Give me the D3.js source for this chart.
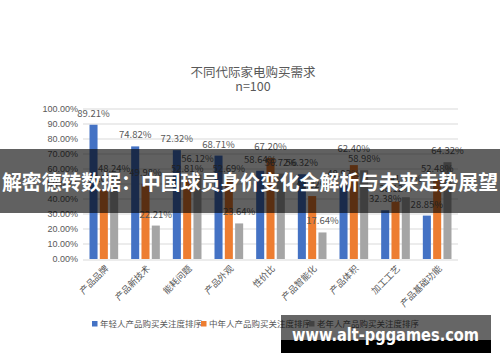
<!DOCTYPE html>
<html>
<head>
<meta charset="utf-8">
<script src="https://cdn.jsdelivr.net/npm/d3@7"></script>
<style>
  body { margin: 0; background: #fff; }
  svg { display: block; font-family: "Noto Sans CJK SC", "Noto Sans", sans-serif; }
  .axis text { fill: #595959; font-size: 9px; }
  .axis path, .axis line { stroke: none; }
  .grid line { stroke: #d9d9d9; stroke-width: 1; }
  .val { fill: #595959; font-size: 9.5px; text-anchor: middle; }
</style>
</head>
<body>
<div class="chart"></div>
<script>
const categories = [ "产品品牌", "产品新技术", "能耗问题", "产品外观", "性价比", "产品智能化", "产品体积", "加工工艺", "产品基础功能" ];
const seriesNames = [ "年轻人产品购买关注度排序", "中年人产品购买关注度排序", "老年人产品购买关注度排序" ];
const young  = [ 89.21, 74.82, 72.32, 68.71, 58.64, 56.32, 48.92, 32.38, 28.85 ];
const middle = [ 46.05, 49.98, 52.81, 52.69, 67.20, 41.82, 62.40, 38.12, 52.48 ];
const old    = [ 48.24, 22.21, 56.12, 23.64, 56.72, 17.64, 58.98, 41.05, 64.32 ];
const yTicks = [ 0, 10, 20, 30, 40, 50, 60, 70, 80, 90, 100 ];
const colors = [ "#4472c4", "#ed7d31", "#a5a5a5" ];

const width = 500;
const height = 362;
const margin = { top: 108.5, right: 42, bottom: 103, left: 83 };

const svg = d3.select( ".chart" )
  .append( "svg" )
    .attr( "width", width )
    .attr( "height", height );

// title
svg.append( "text" )
  .attr( "x", 253 ).attr( "y", 77 )
  .attr( "text-anchor", "middle" )
  .attr( "fill", "#595959" )
  .style( "font-size", "12.5px" )
  .text( "不同代际家电购买需求" );
svg.append( "text" )
  .attr( "x", 253 ).attr( "y", 91 )
  .attr( "text-anchor", "middle" )
  .attr( "fill", "#595959" )
  .style( "font-size", "12.5px" )
  .text( "n=100" );

const g = svg.append( "g" )
  .attr( "transform", `translate(${ margin.left },${ margin.top })` );

const innerW = width - margin.left - margin.right;
const innerH = height - margin.top - margin.bottom;

const xScale = d3.scaleBand()
  .domain( categories )
  .range( [ 0, innerW ] );

const xInner = d3.scaleBand()
  .domain( d3.range( 3 ) )
  .range( [ 6.5, xScale.bandwidth() - 6.5 ] )
  .paddingInner( 0.22 );

const yScale = d3.scaleLinear()
  .domain( [ 0, 100 ] )
  .range( [ innerH, 0 ] );

// grid
g.append( "g" )
  .attr( "class", "grid" )
  .selectAll( "line" )
  .data( yTicks )
  .enter()
    .append( "line" )
    .attr( "x1", 0 )
    .attr( "x2", innerW )
    .attr( "y1", d => Math.round( yScale( d ) ) + 0.5 )
    .attr( "y2", d => Math.round( yScale( d ) ) + 0.5 );

const yAxis = d3.axisLeft( yScale )
  .tickValues( yTicks )
  .tickSize( 0 )
  .tickPadding( 5 )
  .tickFormat( d => d.toFixed( 2 ) + "%" );

g.append( "g" )
  .attr( "class", "y axis" )
  .call( yAxis );

const data = categories.map( ( c, i ) => ( { cat: c, vals: [ young[ i ], middle[ i ], old[ i ] ] } ) );

// label y positions, nudging a neighbour up when two labels would sit on top of each other
data.forEach( d => {
  d.labelY = d.vals.map( v => yScale( v ) - 8 );
  for ( let k = 0; k < 2; k++ ) {
    const a = d.labelY[ k ], b = d.labelY[ k + 1 ];
    if ( Math.abs( a - b ) < 10 ) {
      if ( a < b ) d.labelY[ k ] = b - 10;
      else d.labelY[ k + 1 ] = a - 10;
    }
  }
} );

const group = g.selectAll( "g.cat" )
  .data( data )
  .enter()
    .append( "g" )
    .attr( "class", "cat" )
    .attr( "transform", d => `translate(${ xScale( d.cat ) },0)` );

group.selectAll( "rect" )
  .data( d => d.vals )
  .enter()
    .append( "rect" )
    .attr( "x", ( d, i ) => xInner( i ) )
    .attr( "width", xInner.bandwidth() )
    .attr( "y", d => yScale( d ) )
    .attr( "height", d => innerH - yScale( d ) )
    .attr( "fill", ( d, i ) => colors[ i ] );

group.selectAll( "text.val" )
  .data( d => d.vals.map( ( v, i ) => ( { v, y: d.labelY[ i ] } ) ) )
  .enter()
    .append( "text" )
    .attr( "class", "val" )
    .attr( "x", ( d, i ) => xInner( i ) + xInner.bandwidth() / 2 )
    .attr( "y", d => d.y )
    .text( d => d.v.toFixed( 2 ) + "%" );

// x labels, rotated
g.append( "g" )
  .attr( "class", "x axis" )
  .selectAll( "text" )
  .data( categories )
  .enter()
    .append( "text" )
    .attr( "text-anchor", "end" )
    .attr( "transform", d => `translate(${ xScale( d ) + xScale.bandwidth() / 2 + 3 },${ innerH + 8 }) rotate(-45)` )
    .attr( "dy", "0.35em" )
    .text( d => d );

// legend
const legend = svg.append( "g" )
  .attr( "transform", "translate(92,324)" );
const legendX = [ 0, 109, 217 ];
seriesNames.forEach( ( name, i ) => {
  legend.append( "rect" )
    .attr( "x", legendX[ i ] ).attr( "y", -3 )
    .attr( "width", 5.5 ).attr( "height", 5.5 )
    .attr( "fill", colors[ i ] );
  legend.append( "text" )
    .attr( "x", legendX[ i ] + 8 ).attr( "y", 0 )
    .attr( "dy", "0.35em" )
    .attr( "fill", "#595959" )
    .style( "font-size", "8.5px" )
    .text( name );
} );

// headline banner
svg.append( "rect" )
  .attr( "x", 0 ).attr( "y", 149 )
  .attr( "width", width ).attr( "height", 64 )
  .attr( "fill", "rgba(0,0,0,0.62)" );
svg.append( "text" )
  .attr( "x", 250 ).attr( "y", 190 )
  .attr( "text-anchor", "middle" )
  .attr( "fill", "#fff" )
  .attr( "textLength", 496 )
  .attr( "lengthAdjust", "spacingAndGlyphs" )
  .style( "font-size", "20.5px" )
  .style( "font-weight", "bold" )
  .text( "解密德转数据：中国球员身价变化全解析与未来走势展望" );

// site stamp
svg.append( "rect" )
  .attr( "x", 281 ).attr( "y", 315 )
  .attr( "width", 210 ).attr( "height", 25 )
  .attr( "fill", "rgba(0,0,0,0.6)" );
svg.append( "rect" )
  .attr( "x", 281 ).attr( "y", 340 )
  .attr( "width", 210 ).attr( "height", 13 )
  .attr( "fill", "#000" );
svg.append( "text" )
  .attr( "x", 292 ).attr( "y", 341 )
  .attr( "fill", "#fff" )
  .attr( "textLength", 187 )
  .attr( "lengthAdjust", "spacingAndGlyphs" )
  .style( "font-family", "'DejaVu Sans', sans-serif" )
  .style( "font-size", "17px" )
  .style( "font-weight", "bold" )
  .text( "www.alt-pggames.com" );
</script>
</body>
</html>
